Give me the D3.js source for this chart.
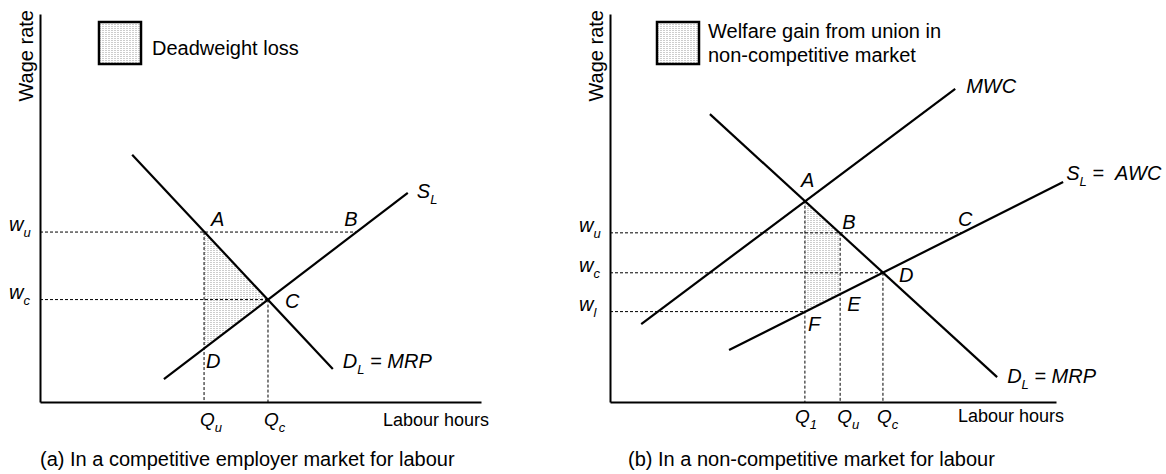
<!DOCTYPE html>
<html>
<head>
<meta charset="utf-8">
<script src="https://cdn.jsdelivr.net/npm/d3@7"></script>
<style>
    body { margin: 0; background: #fff; }
    svg { font-family: "Liberation Sans", Arial, sans-serif; }
</style>
</head>
<body>
<svg id="chart" width="1166" height="474"></svg>
<script>
// all values in chart units, 0-100 on both axes of each panel

// (a) competitive employer market
var curvesA = [
    {label: ["D", "L", "\u00a0=\u00a0MRP"], from: [20.9, 63.7], to: [66.4, 8.5]},
    {label: ["S", "L"], from: [28.1, 5.9], to: [83.4, 53.9]}
];
var pointsA = [
    {id: "A", q: 37.2, w: 43.8},
    {id: "B", q: 71.7, w: 43.8},
    {id: "C", q: 51.7, w: 26.4},
    {id: "D", q: 37.2, w: 13.8}
];
var wageTicksA = [{sub: "u", point: "B"}, {sub: "c", point: "C"}];
var qTicksA = [{sub: "u", point: "A"}, {sub: "c", point: "C"}];
var shadeA = ["A", "C", "D"];

// (b) non-competitive market
var curvesB = [
    {label: ["D", "L", "\u00a0=\u00a0MRP"], from: [22.4, 74.2], to: [86.8, 6.4]},
    {label: ["MWC"], from: [7.0, 20.1], to: [77.4, 80.7]},
    {label: ["S", "L", "\u00a0=\u00a0\u00a0AWC"], from: [26.7, 13.4], to: [101.6, 56.7]}
];
var pointsB = [
    {id: "A", q: 43.7, w: 51.9},
    {id: "B", q: 51.6, w: 43.6},
    {id: "C", q: 78.9, w: 43.6},
    {id: "D", q: 61.2, w: 33.3},
    {id: "E", q: 51.6, w: 27.8},
    {id: "F", q: 43.7, w: 23.3}
];
var wageTicksB = [{sub: "u", point: "C"}, {sub: "c", point: "D"}, {sub: "l", point: "F"}];
var qTicksB = [{sub: "1", point: "A"}, {sub: "u", point: "B"}, {sub: "c", point: "D"}];
var shadeB = ["A", "B", "E", "F"];

var panels = [
    {
        x0: 40, x1: 481, y0: 402, y1: 14,
        curves: curvesA, points: pointsA, wages: wageTicksA, qs: qTicksA, shade: shadeA,
        legendX: 99, legendText: ["Deadweight loss"], legendTextX: 152, legendTextY: [55],
        caption: "(a) In a competitive employer market for labour", captionX: 40,
        pointOffsets: {A: [7, -6], B: [-12, -6], C: [17, 8], D: [2, 20]},
        curveOffsets: [[10, -1], [9, 5]],
        qOffsets: [-4, -4], qY: 24, xLabelY: 24
    },
    {
        x0: 610, x1: 1056, y0: 402, y1: 14,
        curves: curvesB, points: pointsB, wages: wageTicksB, qs: qTicksB, shade: shadeB,
        legendX: 657, legendText: ["Welfare gain from union in", "non-competitive market"],
        legendTextX: 708, legendTextY: [38, 62],
        caption: "(b) In a non-competitive market for labour", captionX: 628,
        pointOffsets: {A: [-4, -14], B: [2, -4], C: [-4, -7], D: [16, 9], E: [7, 17], F: [3, 19]},
        curveOffsets: [[10, 6], [11, 4], [3, -2]],
        qOffsets: [-10, -3, -6], qY: 21, xLabelY: 20
    }
];

var svg = d3.select("#chart");

// dotted grey fill used for the shaded areas
var pat = svg.append("defs").append("pattern")
    .attr("id", "dots")
    .attr("patternUnits", "userSpaceOnUse")
    .attr("width", 3).attr("height", 2);
pat.append("rect").attr("width", 3).attr("height", 2).attr("fill", "#fff");
pat.append("rect").attr("width", 2).attr("height", 1).attr("fill", "#cdcdcd");

function subText(sel, x, y, parts, size, italic) {
    var t = sel.append("text")
        .attr("x", x).attr("y", y)
        .style("font-size", size + "px")
        .style("font-style", italic ? "italic" : "normal");
    t.append("tspan").text(parts[0]);
    if (parts.length > 1) {
        t.append("tspan").attr("dy", 6).style("font-size", "13px").text(parts[1]);
        if (parts[2]) t.append("tspan").attr("dy", -6).text(parts[2]);
    }
    return t;
}

panels.forEach(function(p) {
    var x = d3.scaleLinear().domain([0, 100]).range([p.x0, p.x1]),
        y = d3.scaleLinear().domain([0, 100]).range([p.y0, p.y1]),
        g = svg.append("g");

    var byId = {};
    p.points.forEach(d => byId[d.id] = d);

    // shaded area
    g.append("path")
        .attr("d", d3.line()(p.shade.map(id => [x(byId[id].q), y(byId[id].w)])) + "Z")
        .attr("fill", "url(#dots)");

    // dashed guides
    p.wages.forEach(function(d) {
        var pt = byId[d.point];
        g.append("line")
            .attr("x1", x(0)).attr("x2", x(pt.q))
            .attr("y1", y(pt.w)).attr("y2", y(pt.w))
            .attr("stroke", "#000").attr("stroke-width", 1).attr("stroke-dasharray", "3,2");
        subText(g, x(0) - 31, y(pt.w) - 1, ["w", d.sub], 20, true);
    });
    p.qs.forEach(function(d, i) {
        var pt = byId[d.point];
        g.append("line")
            .attr("x1", x(pt.q)).attr("x2", x(pt.q))
            .attr("y1", y(pt.w)).attr("y2", y(0))
            .attr("stroke", "#000").attr("stroke-width", 1).attr("stroke-dasharray", "3,2");
        subText(g, x(pt.q) + p.qOffsets[i], y(0) + p.qY, ["Q", d.sub], 19, true);
    });

    // axes
    g.append("g")
        .attr("transform", `translate(0,${y(0)})`)
        .call(d3.axisBottom(x).tickValues([]).tickSizeOuter(0))
        .select(".domain").attr("stroke-width", 2);
    g.append("g")
        .attr("transform", `translate(${x(0)},0)`)
        .call(d3.axisLeft(y).tickValues([]).tickSizeOuter(0))
        .select(".domain").attr("stroke-width", 2);

    // curves
    p.curves.forEach(function(c, i) {
        g.append("line")
            .attr("x1", x(c.from[0])).attr("y1", y(c.from[1]))
            .attr("x2", x(c.to[0])).attr("y2", y(c.to[1]))
            .attr("stroke", "#000").attr("stroke-width", 2.2);
        subText(g, x(c.to[0]) + p.curveOffsets[i][0], y(c.to[1]) + p.curveOffsets[i][1], c.label, 20, true);
    });

    // point letters
    p.points.forEach(function(d) {
        var off = p.pointOffsets[d.id];
        g.append("text")
            .attr("x", x(d.q) + off[0]).attr("y", y(d.w) + off[1])
            .style("font-size", "20px").style("font-style", "italic")
            .text(d.id);
    });

    // axis titles
    g.append("text")
        .attr("x", x(100) - 98).attr("y", y(0) + p.xLabelY)
        .style("font-size", "18px")
        .text("Labour hours");
    g.append("text")
        .attr("transform", `translate(${x(0) - 7},10) rotate(-90)`)
        .attr("text-anchor", "end")
        .style("font-size", "20px")
        .text("Wage rate");

    // legend
    g.append("rect")
        .attr("x", p.legendX).attr("y", 22)
        .attr("width", 42).attr("height", 42)
        .attr("fill", "url(#dots)")
        .attr("stroke", "#000").attr("stroke-width", 2.5);
    p.legendText.forEach(function(t, i) {
        g.append("text")
            .attr("x", p.legendTextX).attr("y", p.legendTextY[i])
            .style("font-size", "20px")
            .text(t);
    });

    g.append("text")
        .attr("x", p.captionX).attr("y", 466)
        .style("font-size", "20px")
        .text(p.caption);
});
</script>
</body>
</html>
